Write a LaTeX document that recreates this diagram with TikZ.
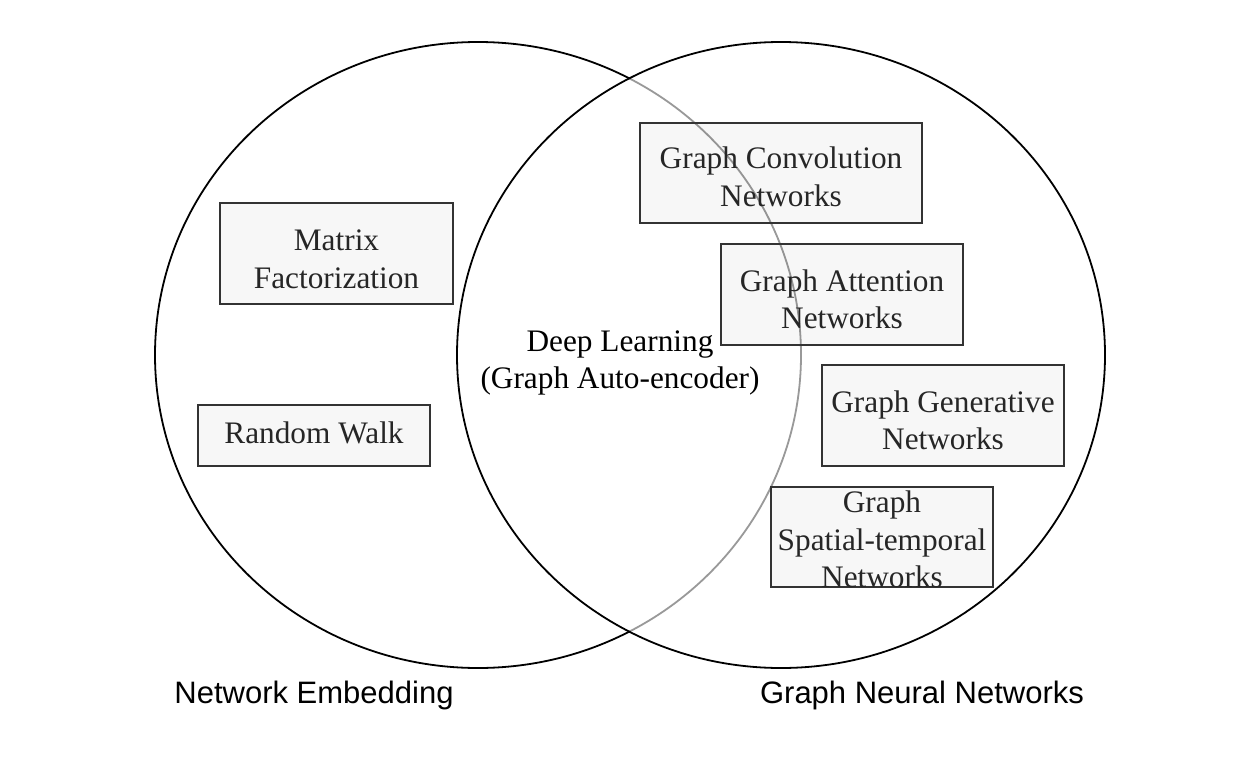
\documentclass[tikz,border=0pt]{standalone}
\usepackage{fontspec}
\setmainfont{Liberation Serif}
\newfontfamily\labelfont{Liberation Sans}
\begin{document}
\begin{tikzpicture}[x=1pt,y=-1pt,
  item/.style={draw=black!80, line width=1.6pt, fill=black, fill opacity=0.03, inner sep=0pt},
  itemtext/.style={text=black!85, align=center, inner sep=0pt, font=\fontsize{31.3}{37.5}\selectfont},
  ring/.style={draw=black, line width=1.8pt},
  setlabel/.style={font=\labelfont\fontsize{31}{34}\selectfont, text=black, inner sep=0pt}]
\useasboundingbox (0,0) rectangle (1250,768);
\fill[white] (0,0) rectangle (1250,768);
% left set
\draw[ring] (478,355) ellipse [x radius=323, y radius=313];
% right set, slightly opaque white to grey out the left arc beneath
\fill[white, fill opacity=0.6] (781,355) ellipse [x radius=324, y radius=313];
\draw[ring] (781,355) ellipse [x radius=324, y radius=313];
% boxes
\node[item, minimum width=233pt, minimum height=101pt] (mf) at (336.5,253.5) {};
\node[item, minimum width=232pt, minimum height=61pt] (rw) at (314,435.5) {};
\node[item, minimum width=282pt, minimum height=100pt] (gcn) at (781,173) {};
\node[item, minimum width=242pt, minimum height=101pt] (gat) at (842,294.5) {};
\node[item, minimum width=242pt, minimum height=101pt] (ggn) at (943,415.5) {};
\node[item, minimum width=222pt, minimum height=100pt] (gst) at (882,537) {};
% box texts
\node[itemtext] (mft) at ([yshift=-6pt]mf.center) {Matrix\\Factorization};
\node[itemtext] (rwt) at ([yshift=3pt]rw.center) {Random Walk};
\node[itemtext] (gcnt) at ([yshift=-4pt]gcn.center) {Graph Convolution\\Networks};
\node[itemtext] (gatt) at ([yshift=-5pt]gat.center) {Graph Attention\\Networks};
\node[itemtext] (ggnt) at ([yshift=-5pt]ggn.center) {Graph Generative\\Networks};
\node[itemtext] (gstt) at ([yshift=-2.5pt]gst.center) {Graph\\Spatial-temporal\\Networks};
\node[itemtext, text=black] (dl) at (620,363) {Deep Learning\\(Graph Auto-encoder)};
% set labels
\node[setlabel] (ne) at (314,695) {Network Embedding};
\node[setlabel] (gnn) at (922,695) {Graph Neural Networks};
\end{tikzpicture}
\end{document}
